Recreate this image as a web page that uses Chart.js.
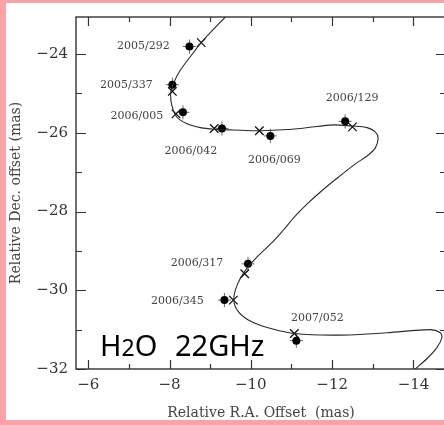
<!DOCTYPE html>
<html>
<head>
<meta charset="utf-8">
<script src="https://cdn.jsdelivr.net/npm/chart.js@4.4.1/dist/chart.umd.min.js"></script>
<style>
  html, body { margin: 0; padding: 0; background: #fff; }
  #frame { position: relative; width: 444px; height: 425px; overflow: hidden; background: #f8a3a6; }
  #paper { position: absolute; left: 6px; top: 3px; width: 460px; height: 417px; background: #fff; }
  #chart { position: absolute; left: 0; top: 0; }
</style>
</head>
<body>
<div id="frame">
  <div id="paper"></div>
  <canvas id="chart" width="460" height="425"></canvas>
</div>
<script>
// observing epochs (year/day) and measured maser spot positions (mas)
const epochs = ['2005/292', '2005/337', '2006/005', '2006/042', '2006/069', '2006/129', '2006/317', '2006/345', '2007/052'];
const obsRA  = [-8.49, -8.07, -8.33, -9.29, -10.48, -12.32, -9.93, -9.35, -11.12];
const obsDec = [-23.81, -24.78, -25.48, -25.89, -26.08, -25.71, -29.33, -30.25, -31.28];
const errRA  = [0.16, 0.16, 0.16, 0.16, 0.16, 0.16, 0.16, 0.16, 0.16];
const errDec = [0.18, 0.18, 0.18, 0.18, 0.18, 0.18, 0.18, 0.18, 0.18];

// best-fit positions at the same epochs
const fitRA  = [-8.78, -8.07, -8.16, -9.10, -10.21, -12.50, -9.85, -9.57, -11.07];
const fitDec = [-23.71, -24.95, -25.52, -25.89, -25.95, -25.85, -29.58, -30.25, -31.10];

// parallax + proper motion track
const curveRA = [-9.37, -8.78, -8.51, -8.26, -8.10, -8.03, -8.06, -8.18, -8.43, -8.76, -9.10, -9.57, -10.21,
  -11.22, -12.03, -12.49, -12.86, -13.06, -13.13, -13.06, -12.86, -12.57, -12.20, -11.76, -11.36, -11.09,
  -10.80, -10.53, -10.12, -9.85, -9.67, -9.58, -9.67, -9.95, -10.45, -11.07, -12.12, -13.35, -14.41, -14.66,
  -14.70, -14.58, -14.33, -14.02];
const curveDec = [-23.06, -23.71, -24.07, -24.42, -24.74, -24.99, -25.32, -25.60, -25.77, -25.87, -25.91, -25.93, -25.95,
  -25.89, -25.80, -25.83, -25.87, -25.98, -26.14, -26.39, -26.59, -26.79, -27.09, -27.46, -27.83, -28.12,
  -28.47, -28.78, -29.19, -29.52, -29.85, -30.22, -30.51, -30.76, -30.96, -31.10, -31.14, -31.08, -31.00, -31.08,
  -31.20, -31.45, -31.74, -32.02];

const xTicks = [-6, -8, -10, -12, -14];
const yTicks = [-24, -26, -28, -30, -32];

// where each epoch label sits relative to its spot, in pixels
const labelShift = [[-46, 0], [-46, 0], [-46, 4], [-31, 23], [4, 24], [7, -23], [-51, -1], [-47, 1], [21, -23]];

const serif = 'DejaVu Serif';
const minus = v => (v < 0 ? '\u2212' : '') + Math.abs(v);
const toPts = (xs, ys) => xs.map((x, i) => ({ x: x, y: ys[i] }));

const errorBars = {
  id: 'errorBars',
  beforeDatasetsDraw(chart) {
    const { ctx, scales: { x, y } } = chart;
    ctx.save();
    ctx.strokeStyle = '#666';
    ctx.lineWidth = 1;
    obsRA.forEach((ra, i) => {
      const px = x.getPixelForValue(ra), py = y.getPixelForValue(obsDec[i]);
      ctx.beginPath();
      ctx.moveTo(x.getPixelForValue(ra - errRA[i]), py);
      ctx.lineTo(x.getPixelForValue(ra + errRA[i]), py);
      ctx.moveTo(px, y.getPixelForValue(obsDec[i] - errDec[i]));
      ctx.lineTo(px, y.getPixelForValue(obsDec[i] + errDec[i]));
      ctx.stroke();
    });
    ctx.restore();
  }
};

const frameAndLabels = {
  id: 'frameAndLabels',
  afterDraw(chart) {
    const { ctx, chartArea: a, scales: { x, y } } = chart;
    ctx.save();

    // box with inward ticks on all four sides
    ctx.strokeStyle = '#333';
    ctx.lineWidth = 1.4;
    ctx.strokeRect(a.left, a.top, a.right - a.left, a.bottom - a.top);
    ctx.lineWidth = 1.2;
    ctx.beginPath();
    for (let v = Math.ceil(x.min); v <= x.max; v++) {
      const px = Math.round(x.getPixelForValue(v)) + 0.5;
      const len = xTicks.includes(v) ? 9 : 5;
      ctx.moveTo(px, a.bottom); ctx.lineTo(px, a.bottom - len);
      ctx.moveTo(px, a.top); ctx.lineTo(px, a.top + len);
    }
    for (let v = Math.ceil(y.min); v <= y.max; v++) {
      const py = Math.round(y.getPixelForValue(v)) + 0.5;
      const len = yTicks.includes(v) ? 10 : 6;
      ctx.moveTo(a.left, py); ctx.lineTo(a.left + len, py);
      ctx.moveTo(a.right, py); ctx.lineTo(a.right - len, py);
    }
    ctx.stroke();

    // epoch labels
    ctx.fillStyle = '#444';
    ctx.font = '11px "' + serif + '"';
    ctx.textAlign = 'center';
    ctx.textBaseline = 'middle';
    epochs.forEach((e, i) => {
      const px = x.getPixelForValue(obsRA[i]) + labelShift[i][0];
      const py = y.getPixelForValue(obsDec[i]) + labelShift[i][1];
      ctx.fillText(e, px, py);
    });

    // band annotation
    ctx.fillStyle = '#000';
    ctx.textAlign = 'left';
    ctx.textBaseline = 'alphabetic';
    let tx = 100;
    const base = 356;
    ctx.font = '29px "Noto Sans"';
    ctx.fillText('H', tx, base); tx += ctx.measureText('H').width;
    ctx.font = '23px "Noto Sans"';
    ctx.fillText('2', tx, base); tx += ctx.measureText('2').width;
    ctx.font = '29px "Noto Sans"';
    ctx.fillText('O', tx, base);
    ctx.fillText('22GHz', 175, base);

    ctx.restore();
  }
};

new Chart(document.getElementById('chart').getContext('2d'), {
  type: 'scatter',
  data: {
    datasets: [{
      label: 'track',
      data: toPts(curveRA, curveDec),
      showLine: true,
      borderColor: '#2a2a2a',
      borderWidth: 1.1,
      pointRadius: 0,
      tension: 0.3,
      fill: false
    }, {
      label: 'observed',
      data: toPts(obsRA, obsDec),
      pointStyle: 'circle',
      pointRadius: 4,
      backgroundColor: '#000',
      borderColor: '#000',
      borderWidth: 0
    }, {
      label: 'model',
      data: toPts(fitRA, fitDec),
      pointStyle: 'crossRot',
      pointRadius: 6,
      borderColor: '#111',
      borderWidth: 1.3
    }]
  },
  options: {
    responsive: false,
    animation: false,
    layout: { padding: { left: 0, top: 7, right: 14, bottom: 0 } },
    plugins: { legend: { display: false }, tooltip: { enabled: false } },
    scales: {
      x: {
        type: 'linear',
        position: 'bottom',
        reverse: true,
        min: -14.8,
        max: -5.7,
        grid: { display: false, drawTicks: false },
        border: { display: false },
        afterBuildTicks: s => { s.ticks = xTicks.map(v => ({ value: v })); },
        afterFit: s => { s.height = 56; },
        ticks: {
          callback: minus,
          autoSkip: false,
          maxRotation: 0,
          padding: 7,
          color: '#333',
          font: { family: serif, size: 15 }
        },
        title: {
          display: true,
          text: 'Relative R.A. Offset  (mas)',
          color: '#444',
          font: { family: serif, size: 14 },
          padding: { top: 0, bottom: 3.6 }
        }
      },
      y: {
        type: 'linear',
        position: 'left',
        min: -32,
        max: -23.06,
        grid: { display: false, drawTicks: false },
        border: { display: false },
        afterBuildTicks: s => { s.ticks = yTicks.map(v => ({ value: v })); },
        afterFit: s => { s.width = 76; },
        ticks: {
          callback: minus,
          autoSkip: false,
          padding: 8,
          color: '#333',
          font: { family: serif, size: 15 }
        },
        title: {
          display: true,
          text: 'Relative Dec. offset (mas)',
          color: '#444',
          font: { family: serif, size: 14 },
          padding: { top: 7.6, bottom: 0 }
        }
      }
    }
  },
  plugins: [errorBars, frameAndLabels]
});
</script>
</body>
</html>
